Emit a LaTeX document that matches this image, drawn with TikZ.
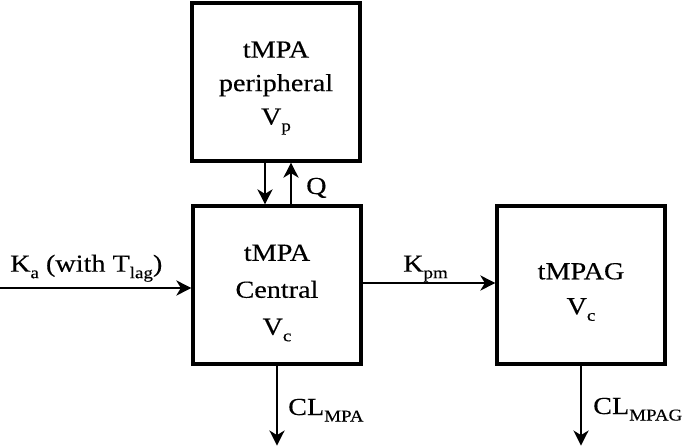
\documentclass[tikz,border=0pt]{standalone}
\usepackage{fontspec}
\setmainfont[FakeStretch=1.15,FakeBold=0.3]{Liberation Serif}
\usetikzlibrary{arrows.meta}
\newcommand{\mysub}[1]{\raisebox{-6.5pt}{\fontsize{16.5}{16.5}\selectfont #1}}
\begin{document}
\begin{tikzpicture}[x=1pt,y=-1pt,
  comp/.style={draw, line width=3.2pt, minimum width=168pt, minimum height=158pt, inner sep=0pt},
  txt/.style={align=center, inner sep=0pt},
  flow/.style={line width=2.9pt, -{Stealth[length=15pt,width=15pt,inset=4.5pt]}},
  lbl/.style={font=\fontsize{24.5}{29}\selectfont, inner sep=0pt, anchor=base west}]
\useasboundingbox (0,0) rectangle (685,447);
\node[comp] (per) at (276,82) {};
\node[comp] (cen) at (277,285) {};
\node[comp] (mpag) at (581,285) {};
\node[txt, font=\fontsize{24.5}{33.5}\selectfont] (pertxt) at ([yshift=-6pt]per.center) {tMPA\\peripheral\\V\mysub{p}};
\node[txt, font=\fontsize{24.5}{37}\selectfont] (centxt) at ([yshift=-8pt]cen.center) {tMPA\\Central\\V\mysub{c}};
\node[txt, font=\fontsize{24.5}{35}\selectfont] (mpagtxt) at ([yshift=-7pt]mpag.center) {tMPAG\\V\mysub{c}};
\coordinate (src) at (0,288);
\draw[flow] ([xshift=-11pt]per.south) -- ([xshift=-11pt]per.south |- cen.north);
\draw[flow] ([xshift=14pt]cen.north) -- ([xshift=14pt]cen.north |- per.south);
\draw[flow] (src) -- (src -| cen.west);
\draw[flow] ([yshift=2pt]cen.east) -- ([yshift=2pt]cen.east -| mpag.west);
\draw[flow] (cen.south) -- ++(0,80);
\draw[flow] (mpag.south) -- ++(0,80);
\node[lbl] (ka) at (10,271.7) {K\mysub{a} (with T\mysub{lag})};
\node[lbl] (kpm) at (403,271.7) {K\mysub{pm}};
\node[lbl] (q) at (306,194) {Q};
\node[lbl] (clmpa) at (288,415) {CL\mysub{MPA}};
\node[lbl] (clmpag) at (593,414) {CL\mysub{MPAG}};
\end{tikzpicture}
\end{document}
